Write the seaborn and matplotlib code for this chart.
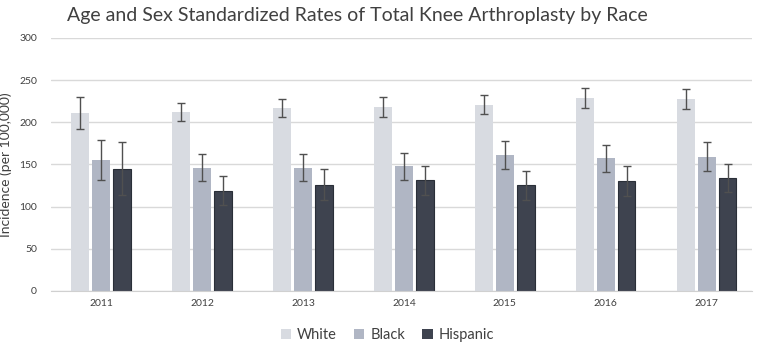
import matplotlib
matplotlib.use('Agg')
import matplotlib.pyplot as plt
import seaborn as sns
import pandas as pd

years = ['2011', '2012', '2013', '2014', '2015', '2016', '2017']
races = ['White', 'Black', 'Hispanic']

white = [211, 212, 217, 218, 221, 229, 228]
black = [155, 146, 146, 148, 161, 157, 159]
hispanic = [145, 119, 126, 131, 125, 130, 134]

white_err = [19, 11, 11, 12, 11, 12, 12]
black_err = [24, 16, 16, 16, 17, 16, 17]
hispanic_err = [31, 17, 18, 17, 17, 18, 17]

colors = ['#d6dae3', '#adb5c7', '#3b4252']

rows = []
for race, vals, errs in zip(races, [white, black, hispanic], [white_err, black_err, hispanic_err]):
    for y, v, e in zip(years, vals, errs):
        rows.append({'Year': y, 'Race': race, 'Rate': v, 'Err': e})
df = pd.DataFrame(rows)

sns.set_style('white')
plt.rcParams['font.family'] = ['Lato', 'DejaVu Sans']

fig, ax = plt.subplots(figsize=(7.69, 3.45), dpi=100)
fig.subplots_adjust(left=0.066, right=0.978, top=0.89, bottom=0.157)

sns.barplot(data=df, x='Year', y='Rate', hue='Race', hue_order=races, order=years,
            palette=colors, width=0.62, gap=0.15, ax=ax, legend=True, errorbar=None,
            edgecolor='none', zorder=2)

# error bars at the centres of the drawn bars
for container, race in zip(ax.containers, races):
    sub = df[df['Race'] == race].set_index('Year').loc[years]
    xs = [p.get_x() + p.get_width() / 2 for p in container.patches]
    ax.errorbar(xs, sub['Rate'], yerr=sub['Err'], fmt='none', ecolor='#505050',
                elinewidth=1.0, capsize=3, capthick=1.0, zorder=3)

# outline the dark bars
for p in ax.containers[2].patches:
    p.set_edgecolor('#2a2f38')
    p.set_linewidth(0.8)

ax.set_ylim(0, 300)
ax.set_yticks(range(0, 301, 50))
ax.set_xlim(-0.5, 6.45)
ax.yaxis.grid(True, color='#d9d9d9', linewidth=1, zorder=0)
ax.set_axisbelow(True)
for s in ['top', 'right', 'left']:
    ax.spines[s].set_visible(False)
ax.spines['bottom'].set_color('#d0d0d0')
ax.tick_params(axis='both', length=0, labelsize=7.5, colors='#404040')
ax.tick_params(axis='x', pad=6)
ax.tick_params(axis='y', pad=10)
ax.set_xlabel('')
ax.set_ylabel('Incidence (per 100,000)', fontsize=10, color='#404040', labelpad=5)

fig.text(0.465, 0.955, 'Age and Sex Standardized Rates of Total Knee Arthroplasty by Race',
         ha='center', va='center', fontsize=14, color='#404040')

ax.legend(loc='lower center', bbox_to_anchor=(0.48, -0.255), ncol=3, frameon=False,
          fontsize=10.5, handlelength=0.7, handleheight=0.7, handletextpad=0.4,
          columnspacing=1.2, labelcolor='#404040')

fig.savefig('out.png', dpi=100)
